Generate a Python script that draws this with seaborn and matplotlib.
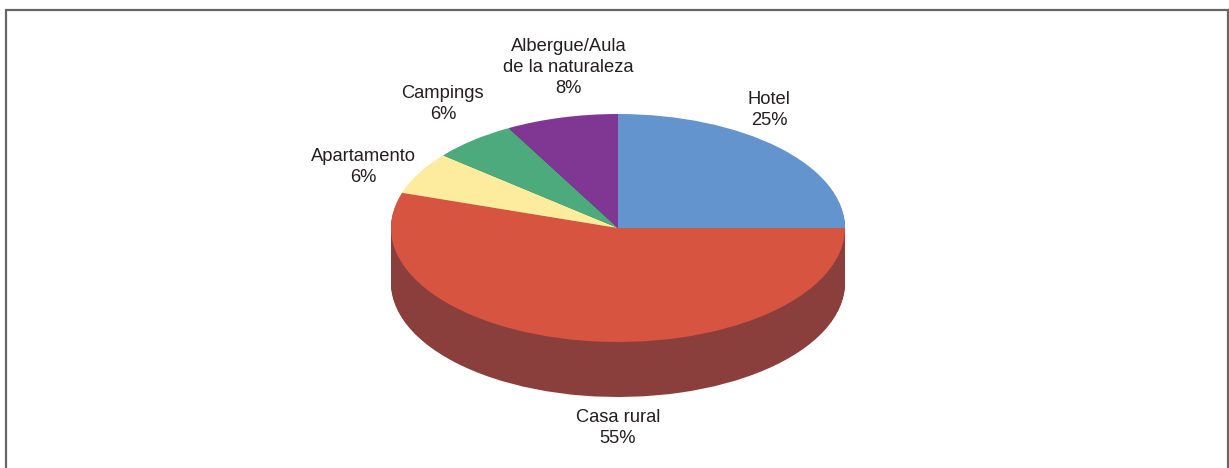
import numpy as np
import matplotlib
matplotlib.use("Agg")
import matplotlib.pyplot as plt
import matplotlib.transforms as mtransforms
from matplotlib.patches import Rectangle
import seaborn as sns

# Data
categories = ["Hotel", "Casa rural", "Apartamento", "Campings", "Albergue/Aula\nde la naturaleza"]
shares = [25, 55, 6, 6, 8]
top_colors = ["#6494CD", "#D75441", "#FEEC9E", "#4CAA7C", "#7F3793"]
side_colors = ["#41628A", "#8A3F3D", "#A99B68", "#326F51", "#542460"]

# label placement factors (x, y) along each slice's mid angle
label_fx = [0.94, 0.0, 1.28, 1.21, 0.88]
label_fy = [1.46, 1.78, 1.11, 1.41, 1.45]

sns.set_theme(style="white")
plt.rcParams['font.family'] = ['Liberation Sans', 'DejaVu Sans']

W, H = 1229, 468
fig = plt.figure(figsize=(W / 100, H / 100), dpi=100)
ax = fig.add_axes([0, 0, 1, 1])

cx, cy = 618, 240
rx, ry = 227, 114
depth = 55

def squash(center_y):
    return (mtransforms.Affine2D().translate(-cx, -center_y)
            .scale(1, ry / rx).translate(cx, center_y) + ax.transData)

# side of the cylinder: stacked darker copies
for k in range(depth, 0, -1):
    wedges, _ = ax.pie(shares, startangle=90, counterclock=False, radius=rx,
                       center=(cx, cy - k), colors=side_colors, frame=True,
                       wedgeprops=dict(linewidth=0))
    for w in wedges:
        w.set_transform(squash(cy - k))

# top face
wedges, _ = ax.pie(shares, startangle=90, counterclock=False, radius=rx,
                   center=(cx, cy), colors=top_colors, frame=True,
                   wedgeprops=dict(linewidth=0))
for w in wedges:
    w.set_transform(squash(cy))

# labels
start = 90.0
for name, val, fx, fy in zip(categories, shares, label_fx, label_fy):
    span = val / sum(shares) * 360
    mid = np.deg2rad(start - span / 2)
    start -= span
    lx = cx + fx * rx * np.cos(mid)
    ly = cy + fy * ry * np.sin(mid)
    ax.text(lx, ly, f"{name}\n{val}%", ha="center", va="center",
            fontsize=13.2, color="#231F20", linespacing=1.3)

# frame around the chart
ax.add_patch(Rectangle((5.5, -10), 1222.5, H - 9.5 + 10, fill=False,
                       edgecolor="#666666", linewidth=1.6, zorder=10))

ax.set_xlim(0, W)
ax.set_ylim(0, H)
ax.set_aspect("auto")
ax.axis("off")

fig.savefig("out.png", dpi=100)
